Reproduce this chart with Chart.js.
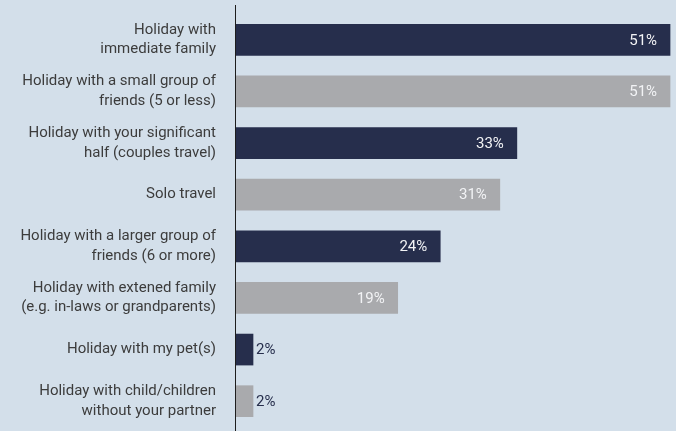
<!DOCTYPE html>
<html>
<head>
<meta charset="utf-8">
<script src="https://cdn.jsdelivr.net/npm/chart.js@4"></script>
<style>
  html, body { margin: 0; padding: 0; background: #d3dfea; }
  #wrap { width: 676px; height: 431px; position: relative; }
</style>
</head>
<body>
<div id="wrap"><canvas id="c"></canvas></div>
<script>
// Travel companion preferences (% of respondents)
const categories = [
  ['Holiday with', 'immediate family'],
  ['Holiday with a small group of', 'friends (5 or less)'],
  ['Holiday with your significant', 'half (couples travel)'],
  'Solo travel',
  ['Holiday with a larger group of', 'friends (6 or more)'],
  ['Holiday with extened family', '(e.g. in-laws or grandparents)'],
  'Holiday with my pet(s)',
  ['Holiday with child/children', 'without your partner']
];
const shares = [51, 51, 33, 31, 24, 19, 2, 2];

const NAVY = '#262e4c';
const GREY = '#a9aaad';
const barColors = shares.map((_, i) => (i % 2 === 0 ? NAVY : GREY));
const FONT = 'Roboto, Inter, "Noto Sans", sans-serif';

// Vertical baseline running the full height of the panel
const baseline = {
  id: 'baseline',
  afterDraw(chart) {
    const { ctx } = chart;
    const x = Math.round(chart.scales.x.left) - 0.5;
    ctx.save();
    ctx.strokeStyle = '#1d1d1d';
    ctx.lineWidth = 1;
    ctx.beginPath();
    ctx.moveTo(x, 5);
    ctx.lineTo(x, chart.height);
    ctx.stroke();
    ctx.restore();
  }
};

// Percent labels: inside the bar end when it fits, otherwise just outside
const valueLabels = {
  id: 'valueLabels',
  afterDatasetsDraw(chart) {
    const { ctx } = chart;
    const meta = chart.getDatasetMeta(0);
    ctx.save();
    ctx.font = '15px ' + FONT;
    ctx.textBaseline = 'middle';
    meta.data.forEach((bar, i) => {
      const text = shares[i] + '%';
      const w = ctx.measureText(text).width;
      const len = bar.x - bar.base;
      if (len > w + 20) {
        ctx.fillStyle = '#f2f3f5';
        ctx.textAlign = 'right';
        ctx.fillText(text, bar.x - 13, bar.y + 1);
      } else {
        ctx.fillStyle = '#262e4c';
        ctx.textAlign = 'left';
        ctx.fillText(text, bar.x + 3, bar.y + 1);
      }
    });
    ctx.restore();
  }
};

new Chart(document.getElementById('c'), {
  type: 'bar',
  data: {
    labels: categories,
    datasets: [{
      data: shares,
      backgroundColor: barColors,
      borderWidth: 0,
      barThickness: 31
    }]
  },
  options: {
    indexAxis: 'y',
    responsive: true,
    maintainAspectRatio: false,
    animation: false,
    layout: { padding: { top: 14, bottom: 4, left: 0, right: 0 } },
    plugins: {
      legend: { display: false },
      tooltip: { enabled: false }
    },
    scales: {
      x: {
        display: false,
        min: 0,
        max: 51.7
      },
      y: {
        afterFit(scale) {
          scale.width = 236;
          scale.paddingTop = 0;
          scale.paddingBottom = 0;
        },
        border: { display: false },
        grid: { display: false, drawTicks: false },
        ticks: {
          padding: 20,
          color: '#3c3c3c',
          font: { family: FONT, size: 15, lineHeight: 1.3 }
        }
      }
    }
  },
  plugins: [baseline, valueLabels]
});
</script>
</body>
</html>
